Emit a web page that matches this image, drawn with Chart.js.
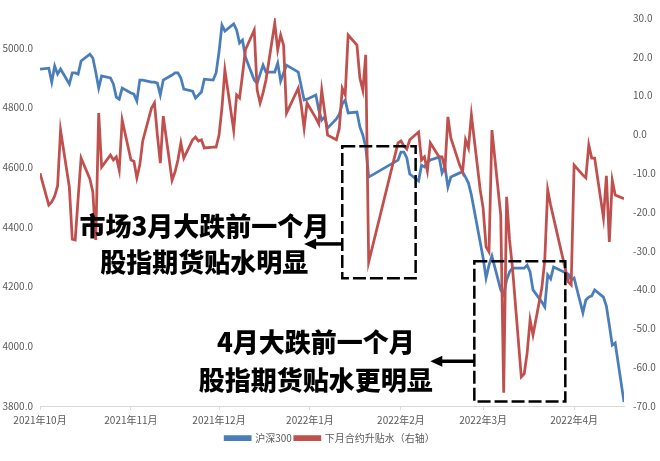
<!DOCTYPE html>
<html>
<head>
<meta charset="utf-8">
<script src="https://cdn.jsdelivr.net/npm/chart.js@4.4.1/dist/chart.umd.min.js"></script>
<style>
  html, body { margin: 0; padding: 0; background: #fff; }
</style>
</head>
<body>
<canvas id="chart" width="660" height="461"></canvas>
<script>
// 交易日
const dates = [
  '2021-10-08','2021-10-11','2021-10-12','2021-10-13','2021-10-14','2021-10-15','2021-10-18','2021-10-19',
  '2021-10-20','2021-10-21','2021-10-22','2021-10-25','2021-10-26','2021-10-27','2021-10-28','2021-10-29',
  '2021-11-01','2021-11-02','2021-11-03','2021-11-04','2021-11-05','2021-11-08','2021-11-09','2021-11-10',
  '2021-11-11','2021-11-12','2021-11-15','2021-11-16','2021-11-17','2021-11-18','2021-11-19','2021-11-22',
  '2021-11-23','2021-11-24','2021-11-25','2021-11-26','2021-11-29','2021-11-30',
  '2021-12-01','2021-12-02','2021-12-03','2021-12-06','2021-12-07','2021-12-08','2021-12-09','2021-12-10',
  '2021-12-13','2021-12-14','2021-12-15','2021-12-16','2021-12-17','2021-12-20','2021-12-21','2021-12-22',
  '2021-12-23','2021-12-24','2021-12-27','2021-12-28','2021-12-29','2021-12-30','2021-12-31',
  '2022-01-04','2022-01-05','2022-01-06','2022-01-07','2022-01-10','2022-01-11','2022-01-12','2022-01-13',
  '2022-01-14','2022-01-17','2022-01-18','2022-01-19','2022-01-20','2022-01-21','2022-01-24','2022-01-25',
  '2022-01-26','2022-01-27','2022-01-28',
  '2022-02-07','2022-02-08','2022-02-09','2022-02-10','2022-02-11','2022-02-14','2022-02-15','2022-02-16',
  '2022-02-17','2022-02-18','2022-02-21','2022-02-22','2022-02-23','2022-02-24','2022-02-25','2022-02-28',
  '2022-03-01','2022-03-02','2022-03-03','2022-03-04','2022-03-07','2022-03-08','2022-03-09','2022-03-10',
  '2022-03-11','2022-03-14','2022-03-15','2022-03-16','2022-03-17','2022-03-18','2022-03-21','2022-03-22',
  '2022-03-23','2022-03-24','2022-03-25','2022-03-28','2022-03-29','2022-03-30','2022-03-31',
  '2022-04-01','2022-04-06','2022-04-07','2022-04-08','2022-04-11','2022-04-12','2022-04-13','2022-04-14',
  '2022-04-15','2022-04-18','2022-04-19','2022-04-20','2022-04-21','2022-04-22','2022-04-25'
];

// 沪深300 (左轴)
const hs300 = [
  4929,4932,4885,4939,4912,4929,4879,4916,4916,4912,4956,4979,4966,4919,4865,4906,
  4899,4879,4835,4828,4865,4849,4845,4822,4892,4892,4885,4885,4882,4842,4892,4909,
  4916,4916,4899,4862,4855,4832,
  4842,4852,4895,4892,4916,4986,5076,5056,5080,5060,5016,5026,4969,4892,4882,4912,
  4942,4919,4919,4949,4889,4916,4942,
  4919,4872,4825,4828,4842,4792,4758,4768,4731,4762,4778,4812,4825,4782,4785,4735,
  4708,4668,4567,
  4624,4651,4651,4631,4577,4554,4607,4601,4617,4624,4634,4581,4601,4534,4567,4581,
  4584,4567,4547,4507,4349,4296,4229,4272,4302,4189,4172,4222,4249,4262,4262,4262,
  4272,4249,4189,4148,4132,4239,4226,
  4266,4242,4222,4229,4112,4155,4165,4169,4189,4165,4135,4071,4004,4011,3813
];

// 下月合约升贴水 (右轴)
const basis = [
  -10.0,-18.2,-17.4,-15.9,-13.3,1.1,-13.6,-27.0,-27.2,-16.4,-6.1,-11.5,-14.8,-27.2,5.5,-8.4,
  -5.3,-6.6,-5.8,-9.2,3.7,-6.6,-6.9,-11.2,-7.9,-1.7,6.8,8.1,-0.2,-7.4,4.7,-11.8,
  -9.7,-6.6,-2.2,-6.1,-1.4,-0.7,
  -1.7,-1.4,-3.5,-3.3,-3.3,-0.2,6.8,16.6,1.1,10.2,9.4,15.3,21.8,26.9,11.4,8.1,
  10.7,14.0,28.7,21.8,25.6,23.0,5.5,
  11.9,7.6,1.6,8.1,4.2,2.7,11.4,5.8,-0.2,-1.4,1.6,11.9,10.2,25.6,23.0,14.5,
  11.4,20.5,-32.9,
  -2.2,-1.7,-3.0,-3.8,-1.4,0.6,-6.6,-5.8,-9.4,-2.2,-5.8,-5.8,-8.7,4.5,-0.9,-7.9,
  -9.7,-1.4,-3.5,5.0,-14.3,-19.0,-29.0,-30.3,1.1,-20.8,-66.6,-16.1,-27.2,-34.4,-62.5,-61.7,
  -56.3,-47.8,-51.7,-39.6,-32.4,-14.3,-18.2,
  -21.5,-38.0,-38.8,-7.9,-10.5,-11.2,-2.7,-6.1,-6.1,-21.5,-10.7,-27.7,-11.8,-15.6,-16.6
];

// 坐标轴刻度
const monthTicks = ['2021-10-08','2021-11-08','2021-12-08','2022-01-08','2022-02-08','2022-03-08','2022-04-08'];
const monthLabels = ['2021年10月','2021年11月','2021年12月','2022年1月','2022年2月','2022年3月','2022年4月'];
const leftTicks = [3800, 4000, 4200, 4400, 4600, 4800, 5000];
const rightTicks = [-70, -60, -50, -40, -30, -20, -10, 0, 10, 20, 30];

// 标注 (日期 + 左轴数值)
const boxes = [
  { from: '2022-01-19', to: '2022-02-13', top: 4670, bottom: 4228 },
  { from: '2022-03-05', to: '2022-04-05', top: 4285, bottom: 3815 }
];
const arrows = [
  { from: '2022-01-19', to: '2022-01-06', y: 4343 },
  { from: '2022-03-05', to: '2022-02-18', y: 3950 }
];
const notes = [
  { at: '2021-12-03', lines: ['市场3月大跌前一个月', '股指期货贴水明显'], y: [4401, 4283] },
  { at: '2022-01-10', lines: ['4月大跌前一个月', '股指期货贴水更明显'], y: [4015, 3887] }
];

const day0 = Date.UTC(2021, 9, 8);
function dayOf(s) {
  const p = s.split('-');
  return (Date.UTC(+p[0], +p[1] - 1, +p[2]) - day0) / 86400000;
}

const FONT = '"Noto Sans CJK SC", "Microsoft YaHei", sans-serif';
const tickFont = { family: FONT, size: 10 };
const gray = '#595959';

// 画虚线框、箭头和文字
const notePlugin = {
  id: 'notes',
  afterDatasetsDraw(chart) {
    const c = chart.ctx;
    const xs = chart.scales.x, ys = chart.scales.y;
    c.save();
    c.strokeStyle = '#000';
    c.lineWidth = 2.5;
    c.setLineDash([13, 4]);
    boxes.forEach(b => {
      const x1 = xs.getPixelForValue(dayOf(b.from)), x2 = xs.getPixelForValue(dayOf(b.to));
      const y1 = ys.getPixelForValue(b.top), y2 = ys.getPixelForValue(b.bottom);
      c.strokeRect(x1, y1, x2 - x1, y2 - y1);
    });
    c.setLineDash([]);
    c.fillStyle = '#000';
    arrows.forEach(a => {
      const x1 = xs.getPixelForValue(dayOf(a.from)), x2 = xs.getPixelForValue(dayOf(a.to));
      const y = ys.getPixelForValue(a.y);
      c.lineWidth = 3.5;
      c.beginPath();
      c.moveTo(x1, y);
      c.lineTo(x2 + 8, y);
      c.stroke();
      c.beginPath();
      c.moveTo(x2, y);
      c.lineTo(x2 + 12, y - 5.5);
      c.lineTo(x2 + 12, y + 5.5);
      c.closePath();
      c.fill();
    });
    c.font = '900 26px ' + FONT;
    c.textAlign = 'center';
    c.textBaseline = 'middle';
    notes.forEach(n => {
      const x = xs.getPixelForValue(dayOf(n.at));
      n.lines.forEach((t, i) => c.fillText(t, x, ys.getPixelForValue(n.y[i])));
    });
    c.restore();
  }
};

new Chart(document.getElementById('chart'), {
  type: 'line',
  data: {
    datasets: [
      {
        label: '沪深300',
        data: dates.map((d, i) => ({ x: dayOf(d), y: hs300[i] })),
        borderColor: '#4a7ebb',
        backgroundColor: '#4a7ebb',
        borderWidth: 2.75,
        pointRadius: 0,
        yAxisID: 'y'
      },
      {
        label: '下月合约升贴水（右轴）',
        data: dates.map((d, i) => ({ x: dayOf(d), y: basis[i] })),
        borderColor: '#c0504d',
        backgroundColor: '#c0504d',
        borderWidth: 2.75,
        pointRadius: 0,
        yAxisID: 'y1',
        order: -1
      }
    ]
  },
  options: {
    responsive: false,
    animation: false,
    devicePixelRatio: 1,
    layout: { padding: { top: 18, bottom: 8, left: 0, right: 0 } },
    plugins: {
      tooltip: { enabled: false },
      legend: {
        position: 'bottom',
        labels: {
          boxWidth: 25,
          boxHeight: 3,
          padding: 3,
          color: gray,
          font: tickFont,
          sort: (a, b) => a.datasetIndex - b.datasetIndex
        }
      }
    },
    scales: {
      x: {
        type: 'linear',
        min: 0,
        max: dayOf(dates[dates.length - 1]),
        afterBuildTicks: s => { s.ticks = monthTicks.map(t => ({ value: dayOf(t) })); },
        afterFit: s => { s.height = 24; },
        ticks: {
          autoSkip: false,
          maxRotation: 0,
          padding: 4,
          color: gray,
          font: tickFont,
          callback: (v, i) => monthLabels[i]
        },
        grid: { drawOnChartArea: false, drawTicks: true, tickLength: 4, color: '#d9d9d9' },
        border: { color: '#d9d9d9' }
      },
      y: {
        position: 'left',
        min: 3800,
        max: 5100,
        afterBuildTicks: s => { s.ticks = leftTicks.map(v => ({ value: v })); },
        afterFit: s => { s.width = 40; },
        ticks: { padding: 7, color: gray, font: tickFont, callback: v => v.toFixed(1) },
        grid: { display: false, drawTicks: false },
        border: { display: false }
      },
      y1: {
        position: 'right',
        min: -70,
        max: 30,
        afterBuildTicks: s => { s.ticks = rightTicks.map(v => ({ value: v })); },
        afterFit: s => { s.width = 36; },
        ticks: { padding: 9, color: gray, font: tickFont, callback: v => v.toFixed(1) },
        grid: { display: false, drawTicks: false },
        border: { display: false }
      }
    }
  },
  plugins: [notePlugin]
});
</script>
</body>
</html>
